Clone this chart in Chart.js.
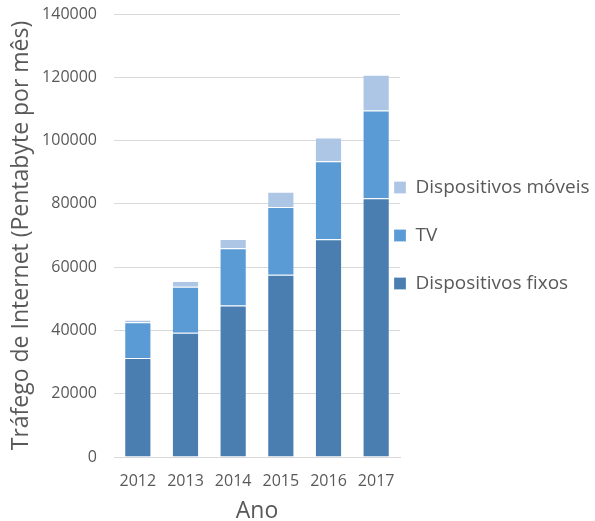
<!DOCTYPE html>
<html>
<head>
<meta charset="utf-8">
<script src="https://cdn.jsdelivr.net/npm/chart.js@4/dist/chart.umd.min.js"></script>
<style>
  html, body { margin: 0; padding: 0; background: #ffffff; }
  #wrap { width: 595px; height: 521px; }
</style>
</head>
<body>
<div id="wrap"><canvas id="chart"></canvas></div>
<script>
// Internet traffic per month, stacked by access type
const anos = ['2012', '2013', '2014', '2015', '2016', '2017'];
const dispositivosFixos = [31300, 39300, 47900, 57600, 68800, 81800];
const tv = [11300, 14500, 18100, 21400, 24700, 27700];
const dispositivosMoveis = [800, 1800, 2900, 4800, 7500, 11300];
const yTicks = [0, 20000, 40000, 60000, 80000, 100000, 120000, 140000];

const textColor = '#595959';
const gridColor = '#D9D9D9';
const fontFamily = '"Open Sans", "DejaVu Sans", sans-serif';

// Pull the legend next to the plot and centre it on the plot's height
const legendPlacement = {
  id: 'legendPlacement',
  afterLayout(chart) {
    const lg = chart.legend;
    if (!lg) return;
    const shift = lg.options.labels.padding + 6;
    lg.left -= shift;
    lg.width += shift;
    lg.top = chart.chartArea.top;
    lg.bottom = chart.chartArea.bottom;
    lg.height = lg.bottom - lg.top;
  }
};

new Chart(document.getElementById('chart'), {
  type: 'bar',
  data: {
    labels: anos,
    datasets: [
      { label: 'Dispositivos fixos', data: dispositivosFixos, backgroundColor: '#4A7EB0' },
      { label: 'TV', data: tv, backgroundColor: '#5B9BD5' },
      { label: 'Dispositivos móveis', data: dispositivosMoveis, backgroundColor: '#ADC6E5' }
    ]
  },
  options: {
    responsive: true,
    maintainAspectRatio: false,
    animation: false,
    layout: { padding: { top: 14, left: 8, right: 0, bottom: 0 } },
    datasets: {
      bar: {
        barPercentage: 0.57,
        categoryPercentage: 1.0,
        borderWidth: 1,
        borderColor: 'rgba(255,255,255,0.25)'
      }
    },
    scales: {
      x: {
        stacked: true,
        grid: { display: false, drawTicks: false },
        border: { display: true, color: gridColor, width: 1 },
        ticks: { color: textColor, font: { family: fontFamily, size: 16 }, padding: 15 },
        title: { display: true, text: 'Ano', color: textColor, font: { family: fontFamily, size: 23, lineHeight: 1 }, padding: { top: 0, bottom: -2 } },
        afterFit(scale) { scale.height = 64; }
      },
      y: {
        stacked: true,
        min: 0,
        max: 140000,
        afterBuildTicks(scale) { scale.ticks = yTicks.map(v => ({ value: v })); },
        grid: { color: gridColor, lineWidth: 1, drawTicks: false },
        border: { display: false },
        ticks: {
          color: textColor,
          font: { family: fontFamily, size: 16 },
          padding: 17,
          callback: v => String(v)
        },
        title: { display: true, text: 'Tráfego de Internet (Pentabyte por mês)', color: textColor, font: { family: fontFamily, size: 23 }, padding: { top: 0, bottom: 0 } },
        afterFit(scale) {
          scale.width = 106;
          scale.paddingTop = 0;
          scale.paddingBottom = 0;
        }
      }
    },
    plugins: {
      legend: {
        position: 'right',
        reverse: true,
        maxWidth: 195,
        labels: {
          color: textColor,
          font: { family: fontFamily, size: 19 },
          boxWidth: 12,
          boxHeight: 12,
          padding: 29
        }
      },
      tooltip: { enabled: false }
    }
  },
  plugins: [legendPlacement]
});
</script>
</body>
</html>
